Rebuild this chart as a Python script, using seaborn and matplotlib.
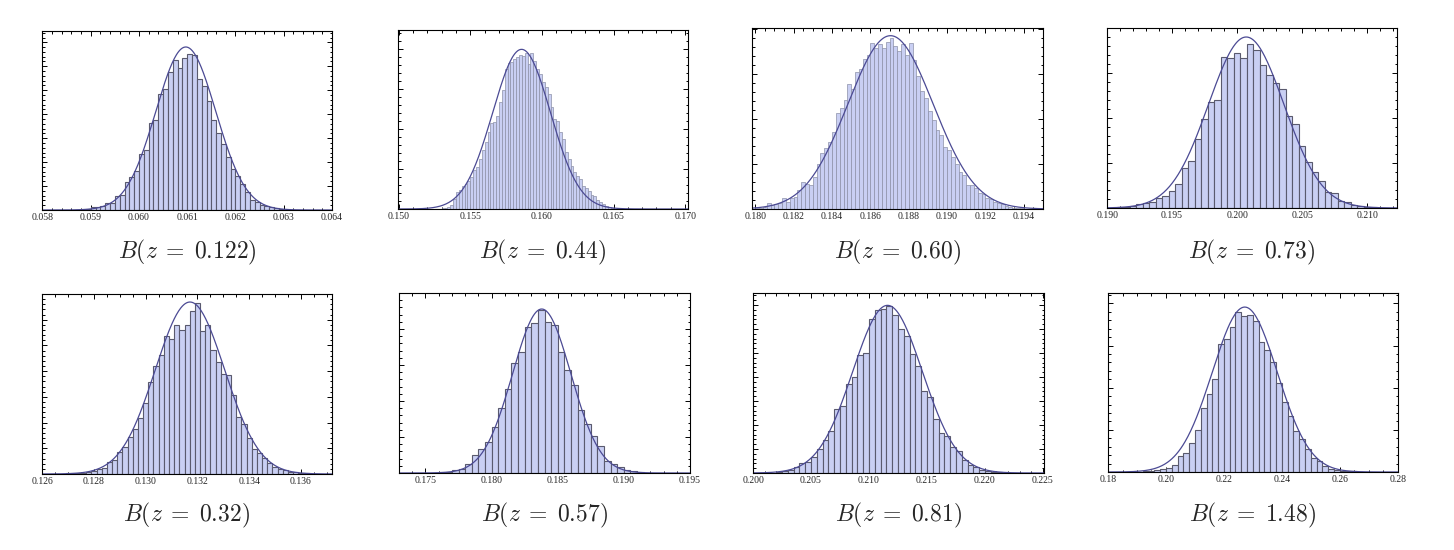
import numpy as np
import pandas as pd
import matplotlib
matplotlib.use('Agg')
import matplotlib.pyplot as plt
from matplotlib.ticker import MultipleLocator, AutoMinorLocator, FormatStrFormatter, NullFormatter
import seaborn as sns

sns.set_style('ticks')
plt.rcParams['font.family'] = ['Liberation Serif', 'DejaVu Serif']
plt.rcParams['mathtext.fontset'] = 'cm'

# ── data (bar heights in arbitrary units) ───────────────────────────────────
titles = ['0.122', '0.44', '0.60', '0.73', '0.32', '0.57', '0.81', '1.48']

bin_start = [0.0589, 0.1530, 0.1800, 0.19075, 0.1263, 0.1760, 0.2020, 0.190]
bin_width = [0.0001, 0.0002, 0.0002, 0.0005, 0.0002, 0.0005, 0.0005, 0.002]

h_122 = [3, 8, 10, 13, 21, 20, 43, 46, 85, 98, 118, 167, 180, 260, 272, 348, 365, 415, 452, 428,
         458, 470, 467, 395, 373, 328, 272, 230, 198, 158, 122, 103, 78, 53, 30, 25, 15, 12, 8, 5, 3]
h_044 = [3, 4, 6, 12, 30, 52, 58, 68, 75, 85, 95, 117, 125, 150, 177, 200, 230, 258, 262, 280,
         320, 357, 420, 437, 440, 450, 457, 462, 460, 467, 435, 467, 445, 420, 405, 380, 365, 345, 305, 270,
         265, 230, 210, 172, 150, 130, 110, 100, 90, 70, 62, 55, 42, 38, 28, 22, 15, 10, 6, 3]
h_060 = [2, 4, 7, 17, 11, 15, 19, 32, 22, 32, 37, 57, 80, 75, 72, 97, 135, 167, 182, 200,
         232, 287, 302, 327, 374, 359, 409, 419, 449, 462, 497, 482, 495, 482, 499, 512, 487, 472, 495, 462,
         497, 445, 397, 352, 332, 292, 267, 237, 222, 187, 177, 157, 135, 112, 102, 72, 72, 62, 47, 45,
         34, 29, 22, 19, 14, 9, 6, 4, 3, 2, 1, 1, 1, 1, 1]
h_073 = [2, 4, 7, 12, 16, 17, 30, 37, 52, 72, 121, 140, 207, 267, 318, 325, 453, 450, 465, 450,
         492, 475, 429, 400, 375, 357, 275, 252, 185, 137, 108, 80, 48, 45, 21, 18, 10, 7, 4, 2]
h_032 = [1, 1, 1, 2, 2, 3, 4, 7, 10, 14, 17, 36, 42, 65, 80, 112, 135, 169, 212, 274,
         324, 355, 414, 405, 445, 432, 447, 489, 512, 429, 445, 371, 335, 299, 297, 237, 172, 149, 109, 74,
         62, 47, 32, 22, 15, 11, 7, 5, 3, 2]
h_057 = [2, 3, 8, 12, 27, 54, 72, 93, 138, 195, 252, 330, 363, 438, 450, 490, 453, 443, 363, 308,
         265, 188, 147, 110, 80, 35, 27, 18, 10, 6, 3]
h_081 = [3, 5, 8, 17, 30, 33, 47, 72, 98, 125, 192, 200, 268, 288, 353, 360, 462, 490, 493, 500,
         473, 433, 410, 357, 322, 245, 228, 163, 120, 110, 77, 67, 40, 25, 18, 10, 6, 4, 2, 1]
h_148 = [1, 2, 3, 5, 8, 11, 22, 48, 58, 88, 127, 192, 233, 278, 383, 397, 432, 478, 465, 468,
         452, 390, 365, 330, 265, 210, 167, 123, 100, 70, 43, 33, 17, 10, 5, 4, 4, 2, 1]
heights = [h_122, h_044, h_060, h_073, h_032, h_057, h_081, h_148]

# fitted normal curve: centre, width, peak height
fit_mean = [0.06097, 0.15858, 0.18705, 0.2007, 0.13171, 0.18379, 0.2116, 0.2272]
fit_sigma = [0.00062, 0.00201, 0.00222, 0.0029, 0.00134, 0.0022, 0.0030, 0.0112]
fit_peak = [490, 479, 519, 513, 515, 492, 503, 493]

# ── axes styling per panel ───────────────────────────────────────────────────
x_lims = [(0.05799, 0.0640), (0.14995, 0.1702), (0.17983, 0.1950), (0.18999, 0.2123),
          (0.12599, 0.1372), (0.1730, 0.1950), (0.19999, 0.2251), (0.17999, 0.2801)]
x_major = [0.001, 0.005, 0.002, 0.005, 0.002, 0.005, 0.005, 0.02]
x_minor_n = [5, 5, 4, 5, 4, 5, 5, 4]
x_fmt = ['%.3f', '%.3f', '%.3f', '%.3f', '%.3f', '%.3f', '%.3f', '%.2f']
y_top = [538, 537, 542, 540, 539, 540, 540, 535]
y_major = [72, 120, 135, 135, 77, 108, 72, 126]

# axes boxes in pixels: left, top, right, bottom
boxes = [(42, 31, 332, 210), (398, 30, 688, 209), (752, 28, 1043, 209), (1107, 28, 1397, 208),
         (42, 294, 332, 474), (399, 293, 690, 473), (753, 293, 1044, 473), (1108, 293, 1398, 472)]

W, H = 1454, 550
fig = plt.figure(figsize=(W / 100, H / 100), dpi=100)

bar_face = '#C9CFF3'
curve_col = '#4B4A94'

for i in range(8):
    l, t, r, b = boxes[i]
    ax = fig.add_axes([l / W, 1 - b / H, (r - l) / W, (b - t) / H])

    n = len(heights[i])
    edges = [bin_start[i] + bin_width[i] * k for k in range(n + 1)]
    df = pd.DataFrame({'value': [e + bin_width[i] / 2 for e in edges[:-1]],
                       'count': heights[i]})
    wide = bin_width[i] / (x_lims[i][1] - x_lims[i][0]) > 0.015
    # narrow bins in the reference have lighter, thinner outlines
    sns.histplot(data=df, x='value', weights='count', bins=edges, ax=ax, color=bar_face,
                 edgecolor='#5A5A6E' if wide else '#8C90A8', linewidth=0.8 if wide else 0.5,
                 alpha=1.0)

    xs = np.linspace(x_lims[i][0], x_lims[i][1], 400)
    ys = fit_peak[i] * np.exp(-0.5 * ((xs - fit_mean[i]) / fit_sigma[i]) ** 2)
    sns.lineplot(x=xs, y=ys, ax=ax, color=curve_col, linewidth=0.9)

    ax.set_xlim(*x_lims[i])
    ax.set_ylim(0, y_top[i])
    ax.set_xlabel('')
    ax.set_ylabel('')

    ax.xaxis.set_major_locator(MultipleLocator(x_major[i]))
    ax.xaxis.set_minor_locator(AutoMinorLocator(x_minor_n[i]))
    ax.xaxis.set_major_formatter(FormatStrFormatter(x_fmt[i]))
    ax.yaxis.set_major_locator(MultipleLocator(y_major[i]))
    ax.yaxis.set_minor_locator(AutoMinorLocator(5))
    ax.yaxis.set_major_formatter(NullFormatter())

    ax.tick_params(which='both', direction='in', top=True, right=True, color='black', width=0.7)
    ax.tick_params(which='major', length=3.5, labelsize=7, pad=2.5)
    ax.tick_params(which='minor', length=1.8)
    for sp in ax.spines.values():
        sp.set_color('black')
        sp.set_linewidth(0.8)

    ty = 252 if i < 4 else 515
    fig.text((l + r) / 2 / W, 1 - ty / H, rf'$B(z\;=\;{titles[i]})$', ha='center', va='center',
             fontsize=17)

fig.savefig('out.png', dpi=100)
